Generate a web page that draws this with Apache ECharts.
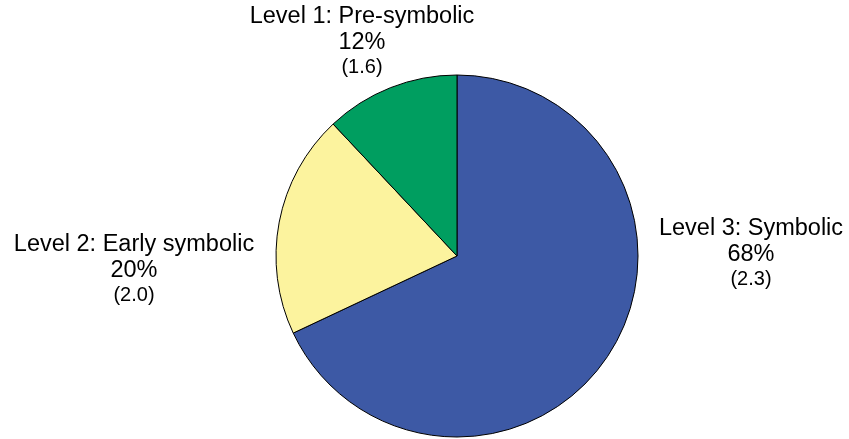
<!DOCTYPE html>
<html lang="en">
<head>
    <meta charset="UTF-8">
    <title>Levels</title>
    <style>
        html, body { margin: 0; padding: 0; background: #fff; }
        #chartPie { width: 849px; height: 439px; }
    </style>
</head>
<body>
<div id="chartPie"></div>
<script src="https://cdn.jsdelivr.net/npm/echarts@6/dist/echarts.min.js"></script>
<script>
    // slices, clockwise from 12 o'clock
    var names = ['Level 3: Symbolic', 'Level 2: Early symbolic', 'Level 1: Pre-symbolic'];
    var percents = [68, 20, 12];
    var means = ['2.3', '2.0', '1.6'];
    var colors = ['#3d59a5', '#fcf39e', '#009e60'];
    // label block anchors (center x, top y)
    var labelPos = [[751, 216], [134, 232], [362, 4]];

    var myChart = echarts.init(document.getElementById('chartPie'));
    var data = [];
    for (var i = 0; i < names.length; i++) {
        data.push({ name: names[i], value: percents[i], mean: means[i], itemStyle: { color: colors[i] } });
    }
    var option = {
        animation: false,
        series: [{
            type: 'pie',
            center: [457, 256],
            radius: 181,
            startAngle: 90,
            clockwise: true,
            data: data,
            itemStyle: { borderColor: '#000', borderWidth: 1 },
            labelLine: { show: false },
            emphasis: { disabled: true },
            label: {
                show: true,
                position: 'outside',
                align: 'center',
                overflow: 'none',
                edgeDistance: 0,
                formatter: function (p) {
                    return '{a|' + p.name + '}\n{a|' + p.value + '%}\n{b|(' + p.data.mean + ')}';
                },
                rich: {
                    a: { fontFamily: 'Liberation Sans', fontSize: 23.5, lineHeight: 25.5, color: '#000', align: 'center' },
                    b: { fontFamily: 'Liberation Sans', fontSize: 20, lineHeight: 25.5, color: '#000', align: 'center' }
                }
            },
            labelLayout: function (params) {
                var pos = labelPos[params.dataIndex];
                return { x: pos[0], y: pos[1], align: 'center', verticalAlign: 'top' };
            }
        }]
    };
    myChart.setOption(option);
</script>
</body>
</html>
